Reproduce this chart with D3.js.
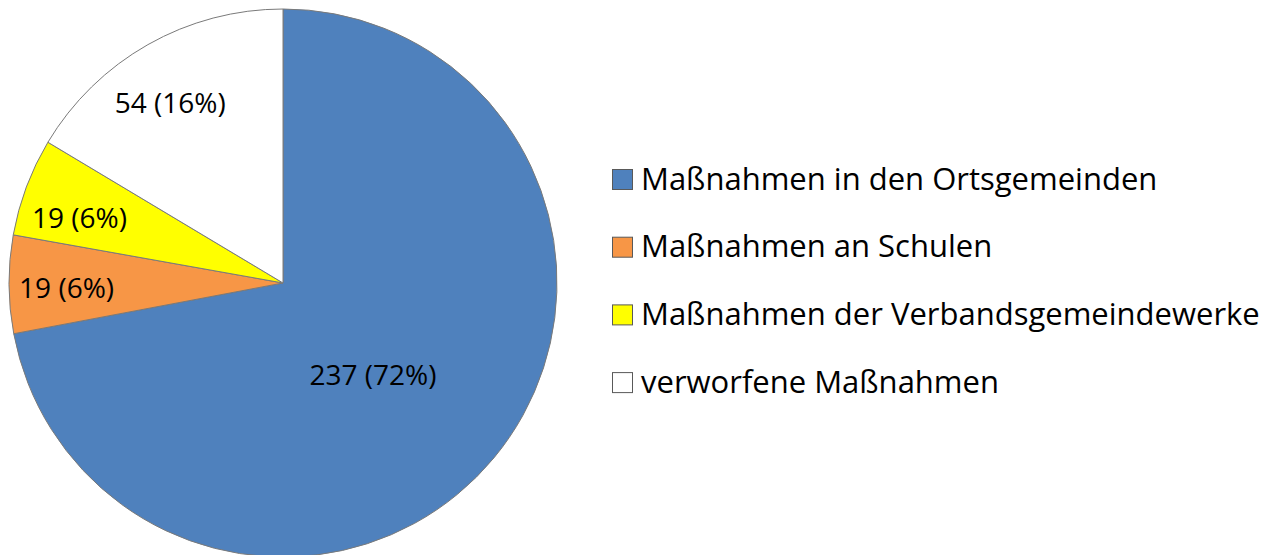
<!DOCTYPE html>
<html>
<head>
<meta charset="utf-8">
<script src="https://cdn.jsdelivr.net/npm/d3@7"></script>
<style>
  body { margin: 0; background: #fff; }
  text { font-family: "Open Sans", sans-serif; fill: #000; }
</style>
</head>
<body>
<div id="plot"></div>
<script>
// data
const categories = [
  "Maßnahmen in den Ortsgemeinden",
  "Maßnahmen an Schulen",
  "Maßnahmen der Verbandsgemeindewerke",
  "verworfene Maßnahmen"
];
const values = [237, 19, 19, 54];
const percents = ["72%", "6%", "6%", "16%"];
const colors = ["#4f81bd", "#f79646", "#ffff00", "#ffffff"];

// layout
const width = 1283, height = 555;
const cx = 283, cy = 283, radius = 274;
// where each slice label sits (fraction of radius, nudge in degrees)
const labelFactor = [0.47, 0.79, 0.78, 0.776];
const labelShift = [6, -1, -2.7, -2.5];

const svg = d3.select("#plot")
  .append("svg")
  .attr("width", width)
  .attr("height", height);

const pie = d3.pie().sort(null).value(d => d);
const arcs = pie(values);

const arc = d3.arc().innerRadius(0).outerRadius(radius);

const g = svg.append("g")
  .attr("transform", `translate(${cx}, ${cy})`);

g.selectAll("path")
  .data(arcs)
  .enter()
  .append("path")
  .attr("d", arc)
  .attr("fill", (d, i) => colors[i])
  .attr("stroke", "#7a7a7a")
  .attr("stroke-width", 1);

// slice labels
g.selectAll(".label")
  .data(arcs)
  .enter()
  .append("text")
  .attr("class", "label")
  .attr("transform", (d, i) => {
    const r = radius * labelFactor[i];
    const a = (d.startAngle + d.endAngle) / 2 + labelShift[i] * Math.PI / 180;
    return `translate(${Math.sin(a) * r}, ${-Math.cos(a) * r})`;
  })
  .attr("text-anchor", "middle")
  .attr("dy", "0.36em")
  .style("font-size", "28px")
  .text((d, i) => `${values[i]} (${percents[i]})`);

// legend
const legend = svg.append("g")
  .attr("transform", "translate(612, 169)");

const item = legend.selectAll(".item")
  .data(categories)
  .enter()
  .append("g")
  .attr("class", "item")
  .attr("transform", (d, i) => `translate(0, ${i * 67.7})`);

item.append("rect")
  .attr("x", 0.5)
  .attr("y", 0.5)
  .attr("width", 20)
  .attr("height", 20)
  .attr("fill", (d, i) => colors[i])
  .attr("stroke", "#595959")
  .attr("stroke-width", 1);

item.append("text")
  .attr("x", 29)
  .attr("y", 20.5)
  .style("font-size", "31px")
  .text(d => d);
</script>
</body>
</html>
